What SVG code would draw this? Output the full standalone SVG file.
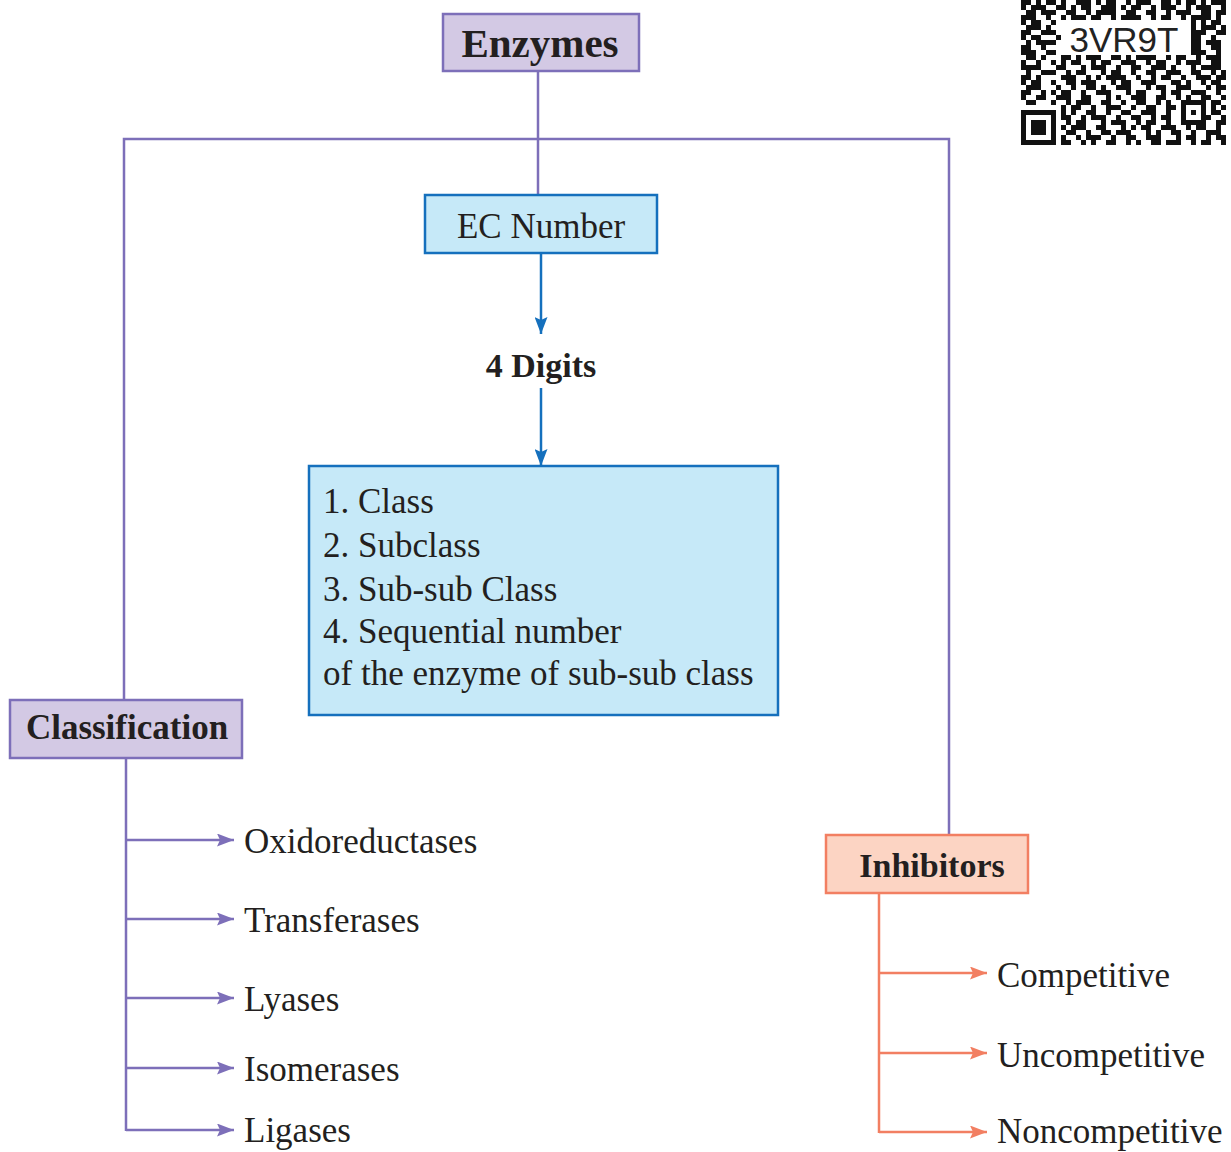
<svg xmlns="http://www.w3.org/2000/svg" width="1231" height="1152" viewBox="0 0 1231 1152">
  <style>
    .lbl { font-family: "Liberation Serif", "Times New Roman", serif; fill: #231f20; }
    .b { font-weight: bold; }
    .purple { fill: #d3c9e4; stroke: #7d6fb9; stroke-width: 2.5; }
    .blue { fill: #c6e9f8; stroke: #1570bd; stroke-width: 2.5; }
    .salmon { fill: #fcd4c3; stroke: #f27f62; stroke-width: 2.5; }
    .lp { fill: none; stroke: #7d6fb9; stroke-width: 2.5; }
    .lb { fill: none; stroke: #1570bd; stroke-width: 2.5; }
    .ls { fill: none; stroke: #f27f62; stroke-width: 2.5; }
  </style>
  <defs>
    <marker id="ahP" markerUnits="userSpaceOnUse" markerWidth="17" markerHeight="13" refX="17" refY="6.5" orient="auto">
      <path d="M0,0 L17,6.5 L0,13 L3,6.5 z" fill="#7d6fb9"/>
    </marker>
    <marker id="ahB" markerUnits="userSpaceOnUse" markerWidth="17" markerHeight="13" refX="17" refY="6.5" orient="auto">
      <path d="M0,0 L17,6.5 L0,13 L3,6.5 z" fill="#1570bd"/>
    </marker>
    <marker id="ahS" markerUnits="userSpaceOnUse" markerWidth="17" markerHeight="13" refX="17" refY="6.5" orient="auto">
      <path d="M0,0 L17,6.5 L0,13 L3,6.5 z" fill="#f27f62"/>
    </marker>
  </defs>

  <rect width="1231" height="1152" fill="#ffffff"/>

  <!-- connectors -->
  <g id="connectors">
    <path class="lp" d="M538,71 V195"/>
    <path class="lp" d="M124,700 V139 H949 V835"/>
    <path class="lb" d="M541,253 V334" marker-end="url(#ahB)"/>
    <path class="lb" d="M541,388 V466" marker-end="url(#ahB)"/>
    <path class="lp" d="M126,758 V1131"/>
    <path class="lp" d="M126,840 H234" marker-end="url(#ahP)"/>
    <path class="lp" d="M126,919 H234" marker-end="url(#ahP)"/>
    <path class="lp" d="M126,998 H234" marker-end="url(#ahP)"/>
    <path class="lp" d="M126,1068 H234" marker-end="url(#ahP)"/>
    <path class="lp" d="M126,1130 H234" marker-end="url(#ahP)"/>
    <path class="ls" d="M879,893 V1133"/>
    <path class="ls" d="M879,973 H987" marker-end="url(#ahS)"/>
    <path class="ls" d="M879,1053 H987" marker-end="url(#ahS)"/>
    <path class="ls" d="M879,1132 H987" marker-end="url(#ahS)"/>
  </g>

  <!-- nodes -->
  <g id="enzymes">
    <rect class="purple" x="443" y="14" width="196" height="57"/>
    <text class="lbl b" x="540" y="57" font-size="41" text-anchor="middle">Enzymes</text>
  </g>

  <g id="ec-number">
    <rect class="blue" x="425" y="195" width="232" height="58"/>
    <text class="lbl" x="541" y="238" font-size="35" text-anchor="middle">EC Number</text>
  </g>

  <g id="digits">
    <text class="lbl b" x="541" y="377" font-size="34" text-anchor="middle">4 Digits</text>
  </g>

  <g id="ec-parts">
    <rect class="blue" x="309" y="466" width="469" height="249"/>
    <text class="lbl" font-size="35">
      <tspan x="323" y="513">1. Class</tspan>
      <tspan x="323" y="557">2. Subclass</tspan>
      <tspan x="323" y="601">3. Sub-sub Class</tspan>
      <tspan x="323" y="643">4. Sequential number</tspan>
      <tspan x="323" y="685">of the enzyme of sub-sub class</tspan>
    </text>
  </g>

  <g id="classification">
    <rect class="purple" x="10" y="700" width="232" height="58"/>
    <text class="lbl b" x="127" y="739" font-size="35" text-anchor="middle">Classification</text>
  </g>

  <g id="classes">
    <text class="lbl" x="244" y="853" font-size="35">Oxidoreductases</text>
    <text class="lbl" x="244" y="932" font-size="35">Transferases</text>
    <text class="lbl" x="244" y="1011" font-size="35">Lyases</text>
    <text class="lbl" x="244" y="1081" font-size="35">Isomerases</text>
    <text class="lbl" x="244" y="1142" font-size="35">Ligases</text>
  </g>

  <g id="inhibitors">
    <rect class="salmon" x="826" y="835" width="202" height="58"/>
    <text class="lbl b" x="932" y="877" font-size="34" text-anchor="middle">Inhibitors</text>
  </g>

  <g id="inhibitor-types">
    <text class="lbl" x="997" y="987" font-size="35">Competitive</text>
    <text class="lbl" x="997" y="1067" font-size="35">Uncompetitive</text>
    <text class="lbl" x="997" y="1143" font-size="35">Noncompetitive</text>
  </g>

  <!-- QR code (5px modules, top rows run off the page) -->
  <g id="qr">
    <path fill="#111111" d="
      M1021,0h10v5h-10z M1036,0h5v5h-5z M1046,0h10v5h-10z M1061,0h5v5h-5z M1076,0h15v5h-15z M1096,0h5v5h-5z M1106,0h10v5h-10z M1126,0h5v5h-5z M1136,0h15v5h-15z M1161,0h10v5h-10z M1176,0h5v5h-5z M1186,0h10v5h-10z M1201,0h5v5h-5z M1211,0h15v5h-15z
      M1021,5h5v5h-5z M1031,5h15v5h-15z M1056,5h10v5h-10z M1071,5h5v5h-5z M1081,5h10v5h-10z M1101,5h15v5h-15z M1121,5h5v5h-5z M1131,5h10v5h-10z M1151,5h5v5h-5z M1161,5h15v5h-15z M1186,5h5v5h-5z M1196,5h15v5h-15z M1221,5h5v5h-5z
      M1026,10h10v5h-10z M1041,10h15v5h-15z M1066,10h10v5h-10z M1086,10h5v5h-5z M1096,10h20v5h-20z M1126,10h10v5h-10z M1146,10h10v5h-10z M1166,10h5v5h-5z M1176,10h15v5h-15z M1201,10h10v5h-10z M1216,10h10v5h-10z
      M1021,15h15v5h-15z M1046,15h5v5h-5z M1061,15h5v5h-5z M1071,15h15v5h-15z M1091,15h10v5h-10z M1111,15h5v5h-5z M1121,15h20v5h-20z M1151,15h5v5h-5z M1161,15h10v5h-10z M1181,15h5v5h-5z M1191,15h20v5h-20z M1216,15h5v5h-5z
      M1021,20h5v5h-5z M1031,20h10v5h-10z M1051,20h5v5h-5z M1191,20h5v5h-5z M1201,20h5v5h-5z M1211,20h10v5h-10z
      M1026,25h15v5h-15z M1046,25h5v5h-5z M1191,25h5v5h-5z M1201,25h15v5h-15z M1221,25h5v5h-5z
      M1021,30h10v5h-10z M1041,30h15v5h-15z M1191,30h15v5h-15z M1216,30h10v5h-10z
      M1021,35h5v5h-5z M1031,35h10v5h-10z M1056,35h5v5h-5z M1191,35h10v5h-10z M1211,35h5v5h-5z
      M1026,40h5v5h-5z M1036,40h20v5h-20z M1191,40h10v5h-10z M1206,40h15v5h-15z
      M1021,45h10v5h-10z M1041,45h5v5h-5z M1191,45h10v5h-10z M1211,45h10v5h-10z
      M1021,50h15v5h-15z M1046,50h10v5h-10z M1191,50h15v5h-15z M1216,50h5v5h-5z
      M1026,55h10v5h-10z M1041,55h5v5h-5z M1061,55h10v5h-10z M1076,55h5v5h-5z M1086,55h15v5h-15z M1111,55h10v5h-10z M1126,55h5v5h-5z M1136,55h20v5h-20z M1166,55h5v5h-5z M1176,55h10v5h-10z M1196,55h5v5h-5z M1206,55h15v5h-15z
      M1021,60h5v5h-5z M1036,60h5v5h-5z M1051,60h5v5h-5z M1061,60h5v5h-5z M1071,60h10v5h-10z M1091,60h5v5h-5z M1101,60h10v5h-10z M1121,60h15v5h-15z M1146,60h5v5h-5z M1156,60h10v5h-10z M1176,60h5v5h-5z M1186,60h15v5h-15z M1211,60h10v5h-10z
      M1021,65h20v5h-20z M1056,65h10v5h-10z M1081,65h5v5h-5z M1091,65h15v5h-15z M1116,65h5v5h-5z M1131,65h10v5h-10z M1151,65h15v5h-15z M1171,65h5v5h-5z M1191,65h5v5h-5z M1201,65h20v5h-20z
      M1026,70h5v5h-5z M1041,70h15v5h-15z M1066,70h5v5h-5z M1076,70h10v5h-10z M1101,70h5v5h-5z M1111,70h10v5h-10z M1131,70h5v5h-5z M1146,70h10v5h-10z M1166,70h15v5h-15z M1191,70h10v5h-10z M1211,70h5v5h-5z M1221,70h5v5h-5z
      M1021,75h10v5h-10z M1036,75h5v5h-5z M1061,75h15v5h-15z M1086,75h5v5h-5z M1096,75h5v5h-5z M1106,75h20v5h-20z M1136,75h5v5h-5z M1151,75h5v5h-5z M1161,75h10v5h-10z M1181,75h5v5h-5z M1196,75h15v5h-15z M1216,75h10v5h-10z
      M1021,80h5v5h-5z M1031,80h10v5h-10z M1051,80h5v5h-5z M1066,80h10v5h-10z M1081,80h15v5h-15z M1111,80h5v5h-5z M1121,80h10v5h-10z M1141,80h15v5h-15z M1171,80h10v5h-10z M1186,80h5v5h-5z M1201,80h5v5h-5z M1211,80h10v5h-10z
      M1026,85h15v5h-15z M1056,85h5v5h-5z M1071,85h5v5h-5z M1086,85h10v5h-10z M1101,85h5v5h-5z M1116,85h15v5h-15z M1146,85h5v5h-5z M1156,85h10v5h-10z M1176,85h15v5h-15z M1206,85h5v5h-5z M1216,85h10v5h-10z
      M1021,90h10v5h-10z M1041,90h5v5h-5z M1051,90h5v5h-5z M1061,90h10v5h-10z M1081,90h5v5h-5z M1096,90h15v5h-15z M1126,90h5v5h-5z M1136,90h10v5h-10z M1161,90h5v5h-5z M1171,90h10v5h-10z M1191,90h15v5h-15z M1216,90h5v5h-5z
      M1021,95h5v5h-5z M1036,95h10v5h-10z M1056,95h15v5h-15z M1081,95h10v5h-10z M1106,95h5v5h-5z M1116,95h5v5h-5z M1131,95h15v5h-15z M1156,95h10v5h-10z M1176,95h5v5h-5z M1186,95h5v5h-5z M1201,95h10v5h-10z M1221,95h5v5h-5z
      M1026,100h10v5h-10z M1051,100h5v5h-5z M1066,100h5v5h-5z M1076,100h15v5h-15z M1101,100h10v5h-10z M1121,100h5v5h-5z M1136,100h10v5h-10z M1156,100h5v5h-5z M1166,100h5v5h-5z M1181,100h25v5h-25z M1211,100h10v5h-10z
      M1061,105h5v5h-5z M1071,105h10v5h-10z M1091,105h5v5h-5z M1106,105h15v5h-15z M1131,105h5v5h-5z M1146,105h10v5h-10z M1166,105h10v5h-10z M1181,105h5v5h-5z M1201,105h5v5h-5z M1211,105h5v5h-5z M1221,105h5v5h-5z
      M1021,110h35v5h-35z M1061,110h5v5h-5z M1071,110h5v5h-5z M1086,110h10v5h-10z M1106,110h5v5h-5z M1121,110h10v5h-10z M1141,110h15v5h-15z M1166,110h5v5h-5z M1181,110h5v5h-5z M1191,110h5v5h-5z M1201,110h5v5h-5z M1211,110h10v5h-10z
      M1021,115h5v5h-5z M1051,115h5v5h-5z M1061,115h10v5h-10z M1081,115h5v5h-5z M1091,115h15v5h-15z M1116,115h5v5h-5z M1131,115h10v5h-10z M1151,115h5v5h-5z M1161,115h10v5h-10z M1181,115h5v5h-5z M1201,115h10v5h-10z M1221,115h5v5h-5z
      M1021,120h5v5h-5z M1031,120h15v5h-15z M1051,120h5v5h-5z M1066,120h5v5h-5z M1076,120h10v5h-10z M1101,120h5v5h-5z M1111,120h15v5h-15z M1136,120h5v5h-5z M1146,120h10v5h-10z M1166,120h5v5h-5z M1181,120h25v5h-25z M1216,120h10v5h-10z
      M1021,125h5v5h-5z M1031,125h15v5h-15z M1051,125h5v5h-5z M1061,125h5v5h-5z M1071,125h15v5h-15z M1096,125h10v5h-10z M1121,125h5v5h-5z M1131,125h5v5h-5z M1141,125h10v5h-10z M1161,125h15v5h-15z M1186,125h5v5h-5z M1196,125h10v5h-10z M1216,125h5v5h-5z
      M1021,130h5v5h-5z M1031,130h15v5h-15z M1051,130h5v5h-5z M1066,130h10v5h-10z M1086,130h5v5h-5z M1101,130h10v5h-10z M1116,130h15v5h-15z M1146,130h5v5h-5z M1156,130h5v5h-5z M1171,130h10v5h-10z M1191,130h5v5h-5z M1206,130h15v5h-15z
      M1021,135h5v5h-5z M1051,135h5v5h-5z M1061,135h5v5h-5z M1076,135h5v5h-5z M1086,135h15v5h-15z M1111,135h5v5h-5z M1126,135h10v5h-10z M1146,135h15v5h-15z M1176,135h5v5h-5z M1186,135h10v5h-10z M1206,135h5v5h-5z M1216,135h10v5h-10z
      M1021,140h35v5h-35z M1061,140h10v5h-10z M1081,140h5v5h-5z M1091,140h5v5h-5z M1106,140h10v5h-10z M1126,140h5v5h-5z M1136,140h5v5h-5z M1151,140h10v5h-10z M1166,140h15v5h-15z M1191,140h5v5h-5z M1201,140h10v5h-10z M1221,140h5v5h-5z
    "/>
    <text x="1124" y="52" font-family="'Liberation Sans', Arial, sans-serif" font-size="35" fill="#222222" text-anchor="middle">3VR9T</text>
  </g>
</svg>
